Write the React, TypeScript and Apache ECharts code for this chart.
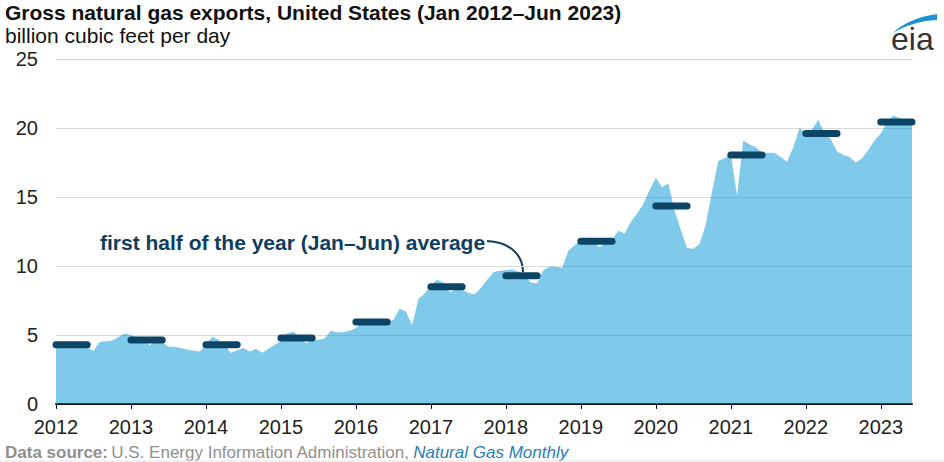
import React, { useEffect, useRef } from 'react';
import * as echarts from 'echarts';

// ---- data ----
const years = [2012, 2013, 2014, 2015, 2016, 2017, 2018, 2019, 2020, 2021, 2022, 2023];

// gross natural gas exports, monthly average, billion cubic feet per day (Jan 2012 - Jun 2023)
const exports2012 = [4.3, 4.4, 4.3, 4.2, 4.5, 4.1, 3.85, 4.5, 4.55, 4.6, 4.85, 5.1];
const exports2013 = [5.0, 4.8, 4.7, 4.25, 4.6, 4.5, 4.15, 4.15, 4.05, 3.95, 3.85, 3.8];
const exports2014 = [4.3, 4.9, 4.65, 4.3, 3.7, 3.9, 4.05, 3.8, 4.0, 3.72, 4.0, 4.3];
const exports2015 = [4.55, 5.1, 5.25, 4.8, 4.4, 4.6, 4.65, 4.75, 5.3, 5.2, 5.2, 5.3];
const exports2016 = [5.5, 5.9, 6.2, 6.0, 5.9, 5.9, 6.1, 6.9, 6.7, 5.7, 7.6, 8.0];
const exports2017 = [8.6, 9.0, 8.8, 8.1, 8.3, 8.3, 8.05, 7.95, 8.4, 9.0, 9.55, 9.65];
const exports2018 = [9.7, 9.75, 9.6, 9.3, 8.8, 8.75, 9.7, 9.95, 9.95, 9.85, 11.1, 11.5];
const exports2019 = [11.9, 12.0, 11.7, 11.35, 11.7, 11.9, 12.55, 12.35, 13.2, 13.8, 14.5, 15.5];
const exports2020 = [16.4, 15.7, 16.0, 14.0, 12.6, 11.3, 11.25, 11.6, 13.0, 15.4, 17.6, 17.8];
const exports2021 = [18.1, 15.1, 19.1, 18.8, 18.6, 18.2, 18.2, 18.2, 17.9, 17.55, 18.6, 20.0];
const exports2022 = [19.6, 19.9, 20.6, 19.6, 19.2, 18.3, 18.05, 17.9, 17.5, 17.8, 18.4, 19.1];
const exports2023 = [19.6, 20.4, 20.9, 20.7, 20.55, 20.45];

// first half of the year (Jan-Jun) average
const halfYearAverages = [4.3, 4.64, 4.3, 4.78, 5.94, 8.5, 9.3, 11.8, 14.35, 18.05, 19.6, 20.43];

const yTicks = [0, 5, 10, 15, 20, 25];

const monthlyExports = [
  ...exports2012, ...exports2013, ...exports2014, ...exports2015,
  ...exports2016, ...exports2017, ...exports2018, ...exports2019,
  ...exports2020, ...exports2021, ...exports2022, ...exports2023,
];

const categories: string[] = monthlyExports.map((_, i) => {
  const y = years[0] + Math.floor(i / 12);
  const m = (i % 12) + 1;
  return `${y}-${m < 10 ? '0' + m : m}`;
});

const halfSeries: (number | string)[] = monthlyExports.map((_, i) => {
  const yi = Math.floor(i / 12);
  const m = i % 12;
  return m <= 5 ? halfYearAverages[yi] : '-';
});

const FONT = "'Liberation Sans', Arial, Helvetica, sans-serif";
const NAVY = '#0c4566';

echarts.graphic.registerShape(
  'eiaSwoosh',
  echarts.graphic.extendPath('M0 19 C10 9 24 3 44 0 L44 6 C27 7 13 11 0 19 Z', {}) as any
);

export default function App() {
  const ref = useRef<HTMLDivElement>(null);

  useEffect(() => {
    document.body.style.margin = '0';
    if (!ref.current) return;
    const chart = echarts.init(ref.current, undefined, { renderer: 'svg' });
    chart.setOption({
      animation: false,
      grid: { left: 56, right: 32, top: 59, bottom: 58 },
      xAxis: {
        type: 'category',
        data: categories,
        boundaryGap: false,
        axisLine: { lineStyle: { color: '#111', width: 2 } },
        axisTick: {
          show: true,
          length: 5,
          interval: (idx: number) => idx % 12 === 0,
          lineStyle: { color: '#111', width: 1 },
        },
        axisLabel: {
          interval: (idx: number) => idx % 12 === 0,
          formatter: (v: string) => v.slice(0, 4),
          color: '#222',
          fontSize: 20,
          fontFamily: FONT,
          margin: 13,
        },
        splitLine: { show: false },
      },
      yAxis: {
        type: 'value',
        min: yTicks[0],
        max: yTicks[yTicks.length - 1],
        interval: 5,
        axisLine: { show: false },
        axisTick: { show: false },
        axisLabel: { color: '#222', fontSize: 20, fontFamily: FONT, margin: 18 },
        splitLine: { lineStyle: { color: '#d9d9d9', width: 1 } },
      },
      series: [
        {
          type: 'line',
          name: 'monthly average',
          data: monthlyExports,
          showSymbol: false,
          symbol: 'none',
          lineStyle: { width: 0 },
          areaStyle: { color: '#0096d7', opacity: 0.5 },
          z: 2,
        },
        {
          type: 'line',
          name: 'first half average',
          data: halfSeries,
          showSymbol: false,
          symbol: 'none',
          connectNulls: false,
          lineStyle: { color: NAVY, width: 7, cap: 'round' },
          z: 3,
        },
      ],
      graphic: [
        {
          type: 'text',
          x: 5,
          y: 12,
          style: {
            text: 'Gross natural gas exports, United States (Jan 2012–Jun 2023)',
            font: `bold 21px ${FONT}`,
            fill: '#111',
            verticalAlign: 'middle',
          },
        },
        {
          type: 'text',
          x: 5,
          y: 35,
          style: {
            text: 'billion cubic feet per day',
            font: `21px ${FONT}`,
            fill: '#111',
            verticalAlign: 'middle',
          },
        },
        {
          type: 'eiaSwoosh',
          x: 893,
          y: 14,
          style: { fill: '#1e92d0' },
        },
        {
          type: 'text',
          x: 891,
          y: 39,
          style: {
            text: 'eia',
            font: `32px ${FONT}`,
            fill: '#333',
            verticalAlign: 'middle',
          },
        },
        {
          type: 'text',
          x: 100,
          y: 242,
          style: {
            text: 'first half of the year (Jan–Jun) average',
            font: `bold 21px ${FONT}`,
            fill: '#0f3d5e',
            verticalAlign: 'middle',
          },
        },
        {
          type: 'bezierCurve',
          shape: { x1: 487, y1: 241, cpx1: 510, cpy1: 242, cpx2: 523, cpy2: 255, x2: 523, y2: 272 },
          style: { stroke: '#0f3d5e', lineWidth: 2, fill: 'none' },
        },
        {
          type: 'text',
          x: 686,
          y: 302,
          style: {
            text: 'monthly average',
            font: `bold 21px ${FONT}`,
            fill: '#ffffff',
            verticalAlign: 'middle',
          },
        },
        {
          type: 'text',
          x: 5,
          y: 452,
          style: {
            text: '{a|Data source:} {b|U.S. Energy Information Administration,} {c|Natural Gas Monthly}',
            verticalAlign: 'middle',
            rich: {
              a: { font: `bold 17px ${FONT}`, fill: '#8f8f8f' },
              b: { font: `17px ${FONT}`, fill: '#8f8f8f' },
              c: { font: `italic 17px ${FONT}`, fill: '#2a7db5' },
            },
          },
        },
        {
          type: 'line',
          shape: { x1: 0, y1: 461, x2: 944, y2: 461 },
          style: { stroke: '#e3e3e3', lineWidth: 1 },
        },
      ],
    });
    return () => chart.dispose();
  }, []);

  return <div ref={ref} style={{ width: 944, height: 462 }} />;
}
